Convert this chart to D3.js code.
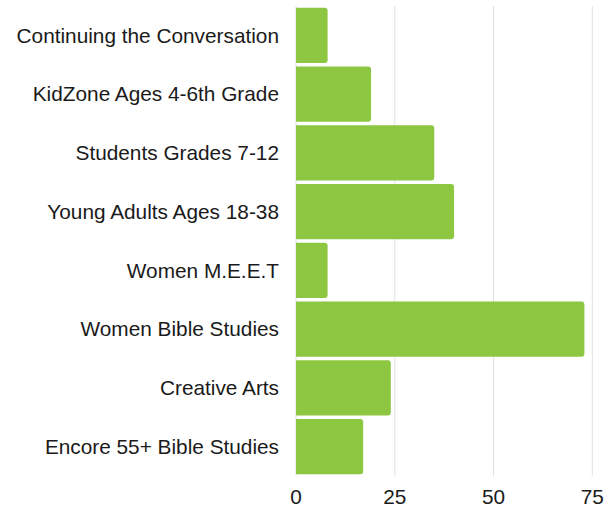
<!DOCTYPE html>
<html lang="en">
<head>
  <meta charset="UTF-8">
  <title>Ministry bar chart</title>
  <script src="https://d3js.org/d3.v7.min.js"></script>
  <style>
    body { margin: 0; background: #fff; }
    text { font-family: "Liberation Sans", Arial, sans-serif; }
  </style>
</head>
<body>
  <svg id="chart" width="615" height="508"></svg>
  <script>
    // data
    const categories = [
      "Continuing the Conversation",
      "KidZone Ages 4-6th Grade",
      "Students Grades 7-12",
      "Young Adults Ages 18-38",
      "Women M.E.E.T",
      "Women Bible Studies",
      "Creative Arts",
      "Encore 55+ Bible Studies"
    ];
    const values = [8, 19, 35, 40, 8, 73, 24, 17];
    const ticks = [0, 25, 50, 75];

    const svg = d3.select("#chart");
    const plotLeft = 296, plotRight = 592.3, plotTop = 6, plotBottom = 476;

    const x = d3.scaleLinear().domain([0, 75]).range([plotLeft, plotRight]);
    const y = d3.scaleBand().domain(categories).range([plotTop, plotBottom])
      .paddingInner(0.06).paddingOuter(0.03);

    // grid
    svg.append("g").selectAll("line").data(ticks).join("line")
      .attr("x1", d => x(d)).attr("x2", d => x(d))
      .attr("y1", plotTop).attr("y2", plotBottom)
      .attr("stroke", "#e0e0e0").attr("stroke-width", 1);

    // bars with rounded right end
    const r = 3;
    function barPath(d, i) {
      const x0 = x(0), x1 = x(d), y0 = y(categories[i]), h = y.bandwidth();
      return `M${x0},${y0}H${x1 - r}Q${x1},${y0} ${x1},${y0 + r}` +
        `V${y0 + h - r}Q${x1},${y0 + h} ${x1 - r},${y0 + h}H${x0}Z`;
    }
    svg.append("g").selectAll("path").data(values).join("path")
      .attr("d", barPath)
      .attr("fill", "#8dc641");

    // category labels
    svg.append("g").selectAll("text").data(categories).join("text")
      .attr("x", plotLeft - 17)
      .attr("y", d => y(d) + y.bandwidth() / 2)
      .attr("dy", "0.35em")
      .attr("text-anchor", "end")
      .attr("font-size", 20.8)
      .attr("fill", "#1a1a1a")
      .text(d => d);

    // x axis labels
    svg.append("g").selectAll("text").data(ticks).join("text")
      .attr("x", d => x(d))
      .attr("y", 497)
      .attr("dy", "0.35em")
      .attr("text-anchor", "middle")
      .attr("font-size", 20.8)
      .attr("fill", "#1a1a1a")
      .text(d => d);
  </script>
</body>
</html>
